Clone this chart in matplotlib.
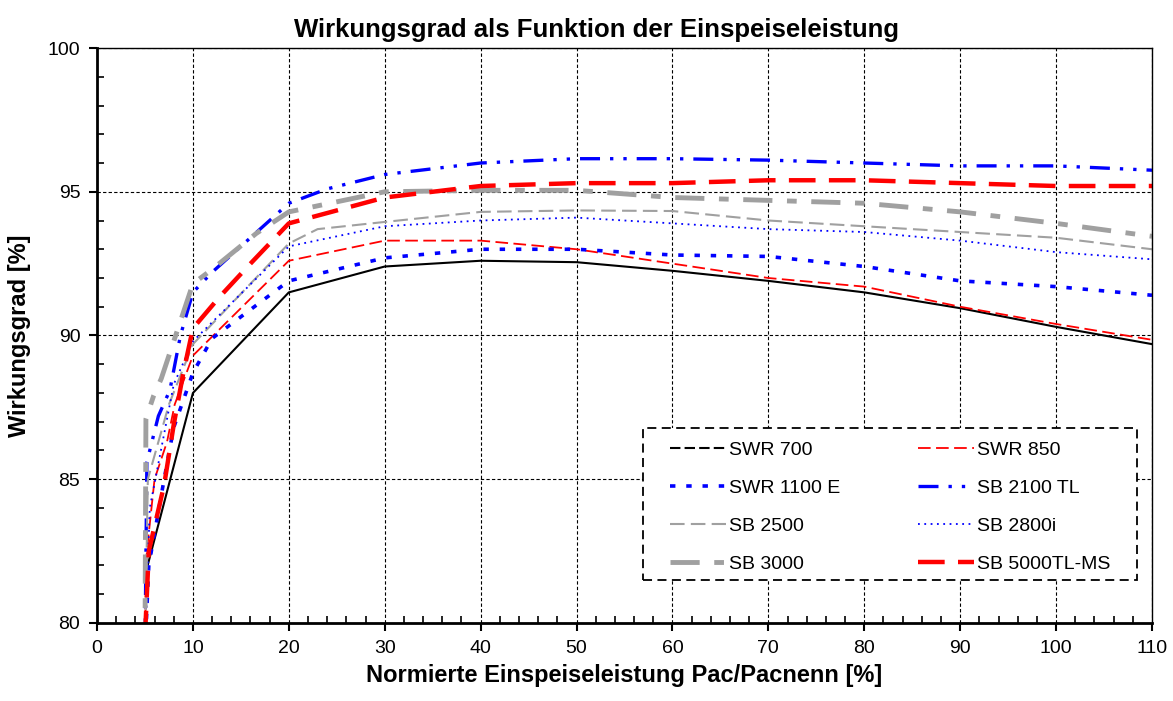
import numpy as np
import matplotlib
matplotlib.use("Agg")
import matplotlib.pyplot as plt
from matplotlib.ticker import MultipleLocator
from matplotlib.patches import Rectangle

plt.rcParams['font.family'] = ['Liberation Sans', 'DejaVu Sans']

# Efficiency data (load in %, efficiency in %)
swr700_x = [5.2, 10, 20, 30, 40, 50, 60, 70, 80, 90, 100, 110]
swr700_y = [81.9, 88.0, 91.5, 92.4, 92.6, 92.55, 92.25, 91.9, 91.5, 90.95, 90.3, 89.7]

swr850_x = [5, 5.2, 6, 7.3, 8.1, 10, 20, 30, 40, 50, 60, 70, 80, 90, 100, 110]
swr850_y = [79.5, 82.5, 85.0, 86.3, 87.6, 89.3, 92.6, 93.3, 93.3, 93.0, 92.5, 92.0, 91.7, 91.0, 90.4, 89.85]

swr1100_x = [5, 5.4, 7, 8, 10, 12, 20, 30, 40, 50, 60, 70, 80, 90, 100, 110]
swr1100_y = [79.0, 82.0, 85.0, 86.8, 88.7, 89.9, 91.9, 92.7, 93.0, 93.0, 92.8, 92.75, 92.4, 91.9, 91.7, 91.4]

sb2100_x = [5, 5.2, 6.4, 7.6, 8.7, 10, 12, 20, 24, 30, 40, 50, 60, 70, 80, 90, 100, 110]
sb2100_y = [79.0, 85.6, 87.2, 88.1, 90.0, 91.5, 92.2, 94.6, 95.1, 95.6, 96.0, 96.15, 96.15, 96.1, 96.0, 95.9, 95.9, 95.75]

sb2500_x = [5, 5.3, 7.5, 10, 20, 23, 30, 40, 50, 60, 70, 80, 90, 100, 110]
sb2500_y = [79.0, 85.0, 87.6, 89.7, 93.2, 93.7, 93.95, 94.3, 94.35, 94.33, 94.0, 93.8, 93.6, 93.4, 93.0]

sb2800_x = [5, 5.5, 8, 10, 20, 30, 40, 50, 60, 70, 80, 90, 100, 110]
sb2800_y = [79.0, 84.0, 88.3, 89.8, 93.1, 93.8, 94.0, 94.1, 93.9, 93.7, 93.6, 93.3, 92.9, 92.65]

sb3000_x = [5, 5.1, 5.9, 6.7, 8.8, 10, 12, 16.6, 20, 30, 40, 50, 60, 70, 80, 90, 100, 110]
sb3000_y = [79.0, 87.1, 87.9, 88.5, 90.6, 91.8, 92.3, 93.55, 94.3, 95.0, 95.05, 95.05, 94.8, 94.7, 94.6, 94.3, 93.9, 93.45]

sb5000_x = [5, 5.4, 7, 8, 9, 10, 12.8, 16, 20, 30, 40, 50, 60, 70, 80, 90, 100, 110]
sb5000_y = [79.5, 82.5, 84.8, 86.9, 88.7, 90.25, 91.35, 92.5, 93.9, 94.8, 95.2, 95.3, 95.3, 95.4, 95.4, 95.3, 95.2, 95.2]

GRAY = '#a0a0a0'

fig = plt.figure(figsize=(11.73, 7.01), dpi=100)
ax = fig.add_axes([0.0827, 0.1113, 0.8994, 0.8202])

# each series with its own line style
l_700, = ax.plot(swr700_x, swr700_y, color='black', lw=1.5, ls='-')
l_850, = ax.plot(swr850_x, swr850_y, color='red', lw=1.3, ls=(0, (7, 3)))
l_1100, = ax.plot(swr1100_x, swr1100_y, color='blue', lw=2.6, ls=(0, (1.5, 3)))
l_2100, = ax.plot(sb2100_x, sb2100_y, color='blue', lw=2.4, ls=(0, (6, 3, 1, 3, 1, 3)))
l_2500, = ax.plot(sb2500_x, sb2500_y, color=GRAY, lw=1.5, ls=(0, (7, 3)))
l_2800, = ax.plot(sb2800_x, sb2800_y, color='blue', lw=1.3, ls=(0, (1, 2.5)))
l_3000, = ax.plot(sb3000_x, sb3000_y, color=GRAY, lw=3.5, ls=(0, (6, 3, 2, 3)))
l_5000, = ax.plot(sb5000_x, sb5000_y, color='red', lw=3.2, ls=(0, (6, 3)))

ax.set_xlim(0, 110)
ax.set_ylim(80, 100)
ax.xaxis.set_major_locator(MultipleLocator(10))
ax.xaxis.set_minor_locator(MultipleLocator(2))
ax.yaxis.set_major_locator(MultipleLocator(5))
ax.yaxis.set_minor_locator(MultipleLocator(1))
ax.tick_params(axis='both', which='major', direction='out', length=6, width=1.5,
               labelsize=14, pad=6)
ax.tick_params(axis='both', which='minor', direction='in', length=5, width=1.2)

ax.grid(True, which='major', color='black', lw=0.8, ls=(0, (3, 2)))
ax.spines['left'].set_linewidth(2)
ax.spines['bottom'].set_linewidth(2)
ax.spines['top'].set_linewidth(1)
ax.spines['right'].set_linewidth(1)

ax.set_title('Wirkungsgrad als Funktion der Einspeiseleistung',
             fontsize=18.5, fontweight='bold', pad=8, x=0.473)
ax.set_xlabel('Normierte Einspeiseleistung Pac/Pacnenn [%]', fontsize=17,
              fontweight='bold', labelpad=5)
ax.set_ylabel('Wirkungsgrad [%]', fontsize=17, fontweight='bold', labelpad=12)

handles = [l_700, l_1100, l_2500, l_3000, l_850, l_2100, l_2800, l_5000]
leg_labels = ['SWR 700', 'SWR 1100 E', 'SB 2500', 'SB 3000',
              'SWR 850', 'SB 2100 TL', 'SB 2800i', 'SB 5000TL-MS']

# dashed legend box drawn separately so the padding can match the original
box = Rectangle((0.5175, 0.0748), 0.468, 0.2643, transform=ax.transAxes,
                facecolor='white', edgecolor='black', lw=1.3,
                ls=(0, (5, 3)), zorder=4)
ax.add_patch(box)

leg = ax.legend(handles, leg_labels, ncol=2, loc='upper left',
                bbox_to_anchor=(0.543, 0.3165), frameon=False,
                fontsize=14, handlelength=2.88, handletextpad=0.15,
                labelspacing=1.05, borderpad=0, columnspacing=4.0,
                borderaxespad=0)
leg.set_zorder(5)
# legend sample for SWR 700 is drawn dashed in the original
leg.get_lines()[0].set_linestyle((0, (5, 2)))

fig.savefig('out.png', dpi=100)
